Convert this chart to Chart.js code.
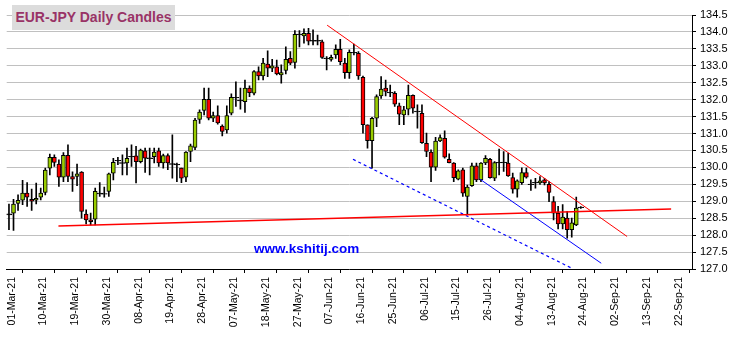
<!DOCTYPE html>
<html>
<head>
<meta charset="utf-8">
<script src="https://cdn.jsdelivr.net/npm/chart.js@4/dist/chart.umd.min.js"></script>
<style>
  body { margin: 0; background: #fff; }
  #wrap { position: relative; width: 733px; height: 337px; }
  #title {
    position: absolute; left: 12px; top: 5px; width: 163px; height: 25px;
    background: #dcdcdc; color: #993366; font: bold 14px "Liberation Sans", Arial, sans-serif;
    line-height: 25px; text-align: center;
  }
  #site {
    position: absolute; left: 254px; top: 241px;
    color: #0000ff; font: bold 13.5px "Liberation Sans", Arial, sans-serif;
  }
</style>
</head>
<body>
<div id="wrap">
  <canvas id="candles" width="733" height="337"></canvas>
  <div id="title">EUR-JPY Daily Candles</div>
  <div id="site">www.kshitij.com</div>
</div>
<script>
// daily candles, 01-Mar-21 .. 24-Aug-21 (weekdays)
var opens = [128.60,128.65,128.94,129.03,129.24,129.06,129.03,129.12,129.26,129.98,
  130.30,130.10,129.71,130.36,129.73,129.73,129.86,128.62,128.45,128.47,
  129.24,129.23,129.29,129.83,130.21,130.14,130.13,130.33,130.34,130.17,
  130.49,130.28,130.32,130.49,130.13,130.35,130.11,130.09,129.98,129.71,
  130.47,130.59,131.42,131.68,132.01,131.45,131.53,131.22,131.11,131.60,
  132.07,131.98,131.94,132.34,132.19,132.83,132.70,133.05,132.93,132.97,
  132.73,132.86,133.22,133.10,133.94,133.88,133.96,133.75,133.75,133.71,
  133.23,133.19,133.32,133.49,133.08,132.80,133.40,133.37,132.66,131.26,
  130.79,131.45,132.11,132.34,132.22,132.19,131.82,131.55,131.72,132.13,
  131.66,131.60,130.71,130.45,130.01,130.78,130.86,130.24,130.13,129.65,
  129.93,129.14,129.46,130.05,129.63,130.13,130.24,129.68,130.15,130.16,
  130.13,129.70,129.36,129.55,129.85,129.51,129.56,129.54,129.63,129.50,
  128.99,128.65,128.33,128.50,128.16,128.30,128.83];
var highs = [128.92,129.06,129.19,129.62,129.55,129.36,129.54,129.39,129.98,130.39,
  130.37,130.22,130.44,130.67,129.87,130.10,129.88,128.75,128.65,129.39,
  129.55,129.42,129.83,130.27,130.30,130.37,130.57,130.67,130.62,130.54,
  130.57,130.57,130.57,130.57,130.39,130.40,130.96,130.13,129.98,130.47,
  130.69,131.45,131.70,132.34,132.34,131.63,131.82,131.26,131.82,132.17,
  132.53,132.34,132.58,132.41,132.86,132.97,133.22,133.44,133.19,133.17,
  133.03,133.56,133.42,134.04,134.04,134.09,134.11,134.06,133.91,133.76,
  133.27,133.32,133.62,133.78,133.22,133.47,133.64,133.42,132.70,131.26,
  131.48,132.14,132.68,132.58,132.43,132.24,131.90,131.80,132.43,132.14,
  131.85,131.85,131.01,130.52,130.89,130.96,131.08,130.40,130.14,129.93,
  129.98,129.48,130.13,130.13,130.14,130.35,130.27,130.17,130.54,130.47,
  130.42,129.83,129.63,129.99,129.98,129.63,129.68,129.73,129.68,129.58,
  129.14,128.85,128.90,128.70,128.50,129.12,128.84];
var lows = [128.16,128.14,128.73,128.90,128.85,128.73,128.92,129.04,129.19,129.78,
  130.03,129.44,129.58,129.58,129.29,129.46,128.50,128.33,128.30,128.30,
  129.14,129.12,129.14,129.63,130.08,129.78,129.78,130.03,129.54,130.13,
  129.85,129.78,130.13,130.03,129.98,129.93,129.68,129.58,129.55,129.58,
  130.17,130.52,131.30,131.55,131.40,131.35,131.28,130.93,131.01,131.55,
  131.80,131.72,131.62,132.09,132.14,132.58,132.58,132.68,132.83,132.73,
  132.49,132.76,133.03,132.93,133.56,133.67,133.62,133.62,133.62,133.22,
  132.88,133.14,133.22,133.03,132.63,132.63,133.32,132.60,131.01,130.57,
  129.98,131.20,132.04,132.11,132.09,131.80,131.26,131.26,131.55,131.60,
  131.16,130.71,130.32,129.58,129.91,130.76,130.27,130.13,129.58,129.63,
  129.14,128.60,129.44,129.58,129.58,130.08,129.68,129.61,129.78,129.88,
  129.73,129.24,129.12,129.50,129.68,129.32,129.39,129.50,129.48,128.99,
  128.45,128.18,128.18,127.91,127.94,128.28,128.79];
var closes = [128.63,128.92,129.03,129.24,129.12,129.00,129.09,129.24,129.92,130.30,
  130.15,129.71,130.36,129.73,129.65,129.81,128.70,128.45,128.40,129.29,
  129.22,129.21,129.81,130.15,130.19,130.12,130.27,130.31,130.17,130.51,
  130.27,130.26,130.45,130.13,130.35,130.13,130.09,130.07,129.68,130.45,
  130.64,131.40,131.63,132.01,131.45,131.53,131.31,131.06,131.53,132.07,
  132.05,131.96,132.34,132.21,132.83,132.70,133.08,132.93,133.00,132.76,
  132.80,133.19,133.08,133.93,133.92,133.96,133.73,133.73,133.73,133.25,
  133.21,133.25,133.49,133.12,132.80,133.40,133.38,132.70,131.26,130.79,
  131.45,132.09,132.31,132.24,132.20,131.87,131.57,131.70,132.13,131.75,
  131.64,130.73,130.47,130.01,130.78,130.88,130.30,130.14,129.70,129.90,
  129.24,129.42,130.05,129.63,130.13,130.27,129.70,130.14,130.13,130.14,
  129.75,129.36,129.60,129.85,129.71,129.49,129.54,129.60,129.54,129.26,
  128.65,128.33,128.53,128.16,128.36,128.80,128.81];

// x-axis labels, one every 7 trading days
var tickLabels = ['01-Mar-21','10-Mar-21','19-Mar-21','30-Mar-21','08-Apr-21','19-Apr-21',
  '28-Apr-21','07-May-21','18-May-21','27-May-21','07-Jun-21','16-Jun-21','25-Jun-21',
  '06-Jul-21','15-Jul-21','26-Jul-21','04-Aug-21','13-Aug-21','24-Aug-21','02-Sep-21',
  '13-Sep-21','22-Sep-21'];
var tickStep = 7;
var xSlots = 151;

// trend lines: [day index, price] end points
var supportLine = [[11.4, 128.27], [146.4, 128.77]];
var resistLine = [[70.6, 134.20], [136.7, 127.96]];
var channelLine = [[104.2, 129.66], [131.0, 127.17]];
var channelDashed = [[76.3, 130.24], [124.7, 127.01]];

var GREEN = '#99cc00', RED = '#ff0000';

function isDoji(i) { return Math.abs(closes[i] - opens[i]) < 0.04; }

var wicks = [], bodies = [], bodyColors = [], dojis = [];
for (var i = 0; i < opens.length; i++) {
  wicks.push({ x: i + 0.5, y: [lows[i], highs[i]] });
  if (isDoji(i)) {
    dojis.push({ x: i + 0.5, y: [opens[i], closes[i]] });
  } else {
    bodies.push({ x: i + 0.5, y: [opens[i], closes[i]] });
    bodyColors.push(closes[i] > opens[i] ? GREEN : RED);
  }
}

function toPoints(arr) {
  return arr.map(function(p) { return { x: p[0], y: p[1] }; });
}

new Chart(document.getElementById('candles'), {
  type: 'bar',
  data: {
    datasets: [
      { type: 'line', data: toPoints(supportLine), borderColor: RED, borderWidth: 1.6,
        pointRadius: 0, order: -1 },
      { type: 'line', data: toPoints(resistLine), borderColor: RED, borderWidth: 1,
        pointRadius: 0, order: -1 },
      { type: 'line', data: toPoints(channelLine), borderColor: '#0000ff', borderWidth: 1,
        pointRadius: 0, order: -1 },
      { type: 'line', data: toPoints(channelDashed), borderColor: '#0000ff', borderWidth: 1.2,
        borderDash: [3, 3], pointRadius: 0, order: -1 },
      { data: bodies, backgroundColor: bodyColors, borderColor: '#000', borderWidth: 1,
        borderSkipped: false, barThickness: 4, grouped: false, order: 0 },
      { data: dojis, backgroundColor: '#000', borderColor: '#000', borderWidth: 1,
        borderSkipped: false, barThickness: 6, grouped: false, order: 0 },
      { data: wicks, backgroundColor: '#000', borderWidth: 0,
        barThickness: 1, grouped: false, order: 1 }
    ]
  },
  options: {
    responsive: false,
    animation: false,
    devicePixelRatio: 1,
    layout: { padding: { left: 6.7, top: 15, right: 0, bottom: 0 } },
    plugins: { legend: { display: false }, tooltip: { enabled: false } },
    scales: {
      x: {
        type: 'linear', min: 0, max: xSlots, offset: false,
        afterBuildTicks: function(scale) {
          scale.ticks = tickLabels.map(function(_, k) { return { value: k * tickStep }; });
        },
        afterFit: function(scale) { scale.height = 68; },
        ticks: {
          autoSkip: false, maxRotation: 90, minRotation: 90, labelOffset: 5, padding: 4,
          color: '#000', font: { family: 'Liberation Sans', size: 10.5 },
          callback: function(v, idx) { return tickLabels[idx]; }
        },
        grid: { drawOnChartArea: false, drawTicks: true, tickLength: 4, color: '#000' },
        border: { color: '#000', width: 1 }
      },
      y: {
        position: 'right', min: 127, max: 134.5,
        afterFit: function(scale) { scale.width = 41; },
        ticks: {
          stepSize: 0.5, padding: 4, color: '#000',
          font: { family: 'Liberation Sans', size: 11 },
          callback: function(v) { return v.toFixed(1); }
        },
        grid: { color: '#c0c0c0', tickColor: '#000', tickLength: 4, lineWidth: 1 },
        border: { color: '#000', width: 1 }
      }
    }
  }
});
</script>
</body>
</html>
